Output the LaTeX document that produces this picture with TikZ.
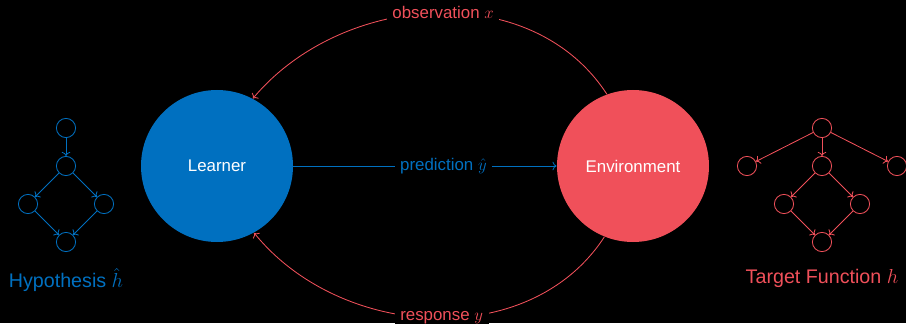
\documentclass[tikz,border=0pt]{standalone}
\usepackage{fontspec}
\setmainfont{Liberation Sans}
\usepackage{tikz}
\usetikzlibrary{arrows.meta}
\usepackage{xcolor}
\definecolor{lrnblue}{HTML}{0070C0}
\definecolor{envred}{HTML}{F0505A}

\begin{document}
\begin{tikzpicture}[
    agent/.style={circle, minimum size=3.8cm, inner sep=0pt, text=white,
                  font=\fontsize{12}{14}\selectfont},
    unit/.style={circle, draw, minimum size=0.48cm, inner sep=0pt},
    flowlabel/.style={fill=black, inner sep=4pt, font=\fontsize{12}{14}\selectfont},
    caption/.style={font=\fontsize{14}{17}\selectfont},
    line width=0.6pt]
  \useasboundingbox (0,0) rectangle (22.65,8.075);
  \fill[black] (0,0) rectangle (22.65,8.075);

  % learner and environment
  \node[agent, fill=lrnblue] (learner) at (5.425,3.925) {Learner};
  \node[agent, fill=envred] (env) at (15.825,3.925) {Environment};

  \draw[->, color=lrnblue] (learner.east) -- node[flowlabel, pos=0.57, text=lrnblue]
        {prediction $\hat{y}$} (env.west);
  \draw[->, color=envred] (env.110) to[out=123, in=50]
        node[flowlabel, pos=0.48, text=envred] {observation $x$} (learner.62);
  \draw[->, color=envred] (env.248) to[out=237, in=309]
        node[flowlabel, pos=0.48, text=envred] {response $y$} (learner.299);

  % hypothesis
  \begin{scope}[color=lrnblue]
    \node[unit] (h1) at (1.65,4.875) {};
    \node[unit] (h2) at (1.65,3.925) {};
    \node[unit] (h3) at (0.7,2.975) {};
    \node[unit] (h4) at (2.6,2.975) {};
    \node[unit] (h5) at (1.65,2.025) {};
    \draw[->] (h1) -- (h2);
    \draw[->] (h2) -- (h3);
    \draw[->] (h2) -- (h4);
    \draw[->] (h3) -- (h5);
    \draw[->] (h4) -- (h5);
    \node[caption, text=lrnblue] (hcap) at (1.65,1.075) {Hypothesis $\hat{h}$};
  \end{scope}

  % target function
  \begin{scope}[color=envred]
    \node[unit] (t1) at (20.55,4.875) {};
    \node[unit] (t2) at (18.675,3.925) {};
    \node[unit] (t3) at (20.55,3.925) {};
    \node[unit] (t4) at (22.425,3.925) {};
    \node[unit] (t5) at (19.6,2.975) {};
    \node[unit] (t6) at (21.5,2.975) {};
    \node[unit] (t7) at (20.55,2.025) {};
    \draw[->] (t1) -- (t2);
    \draw[->] (t1) -- (t3);
    \draw[->] (t1) -- (t4);
    \draw[->] (t3) -- (t5);
    \draw[->] (t3) -- (t6);
    \draw[->] (t5) -- (t7);
    \draw[->] (t6) -- (t7);
    \node[caption, text=envred] (tcap) at (20.55,1.125) {Target Function $h$};
  \end{scope}
\end{tikzpicture}
\end{document}
